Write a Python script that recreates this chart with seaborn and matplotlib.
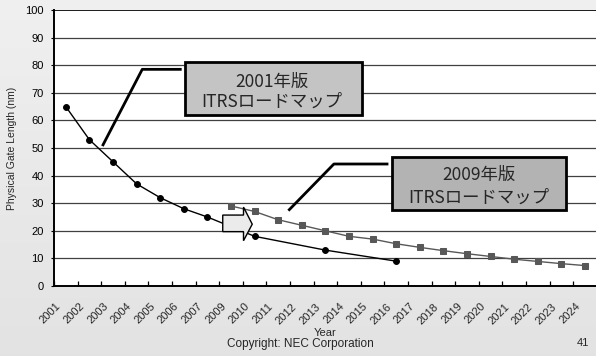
import numpy as np
import pandas as pd
import matplotlib
matplotlib.use("Agg")
import matplotlib.pyplot as plt
import matplotlib.transforms as mtransforms
from matplotlib.patches import Rectangle, Polygon
import seaborn as sns

# Category axis: roadmap years (2008 is not a node on this axis)
categories = ["2001", "2002", "2003", "2004", "2005", "2006", "2007", "2009",
              "2010", "2011", "2012", "2013", "2014", "2015", "2016", "2017",
              "2018", "2019", "2020", "2021", "2022", "2023", "2024"]

# ITRS 2001 physical gate length (nm)
itrs2001_years = ["2001", "2002", "2003", "2004", "2005", "2006", "2007",
                  "2010", "2013", "2016"]
itrs2001_values = [65, 53, 45, 37, 32, 28, 25, 18, 13, 9]

# ITRS 2009 physical gate length (nm)
itrs2009_years = ["2009", "2010", "2011", "2012", "2013", "2014", "2015",
                  "2016", "2017", "2018", "2019", "2020", "2021", "2022",
                  "2023", "2024"]
itrs2009_values = [29, 27, 24, 22, 20, 18, 17, 15.3, 14, 12.8, 11.7, 10.7,
                   9.7, 8.9, 8.1, 7.4]

y_ticks = list(range(0, 101, 10))

sns.set_theme(style="white")
plt.rcParams["font.family"] = ["Liberation Sans", "Noto Sans CJK JP"]
cjk = ["Noto Sans CJK JP", "Liberation Sans"]

df01 = pd.DataFrame({"pos": [categories.index(y) for y in itrs2001_years],
                     "value": itrs2001_values})
df09 = pd.DataFrame({"pos": [categories.index(y) for y in itrs2009_years],
                     "value": itrs2009_values})

W, H = 596, 356
fig = plt.figure(figsize=(W / 100, H / 100), dpi=100)

# slide background
bg = fig.add_axes([0, 0, 1, 1], zorder=-10)
grad = np.linspace(0, 1, 256)[:, None]
top = np.array([0.94, 0.94, 0.94])
bot = np.array([0.89, 0.89, 0.89])
img = top[None, None, :] * (1 - grad[..., None]) + bot[None, None, :] * grad[..., None]
img = np.repeat(img, 2, axis=1)
bg.imshow(img, aspect="auto", extent=[0, 1, 0, 1])
bg.set_axis_off()

left_px, right_px, top_px, bottom_px = 54, 596.8, 10, 286
ax = fig.add_axes([left_px / W, 1 - bottom_px / H,
                   (right_px - left_px) / W, (bottom_px - top_px) / H])
ax.set_facecolor("white")

sns.lineplot(data=df01, x="pos", y="value", ax=ax, color="black", lw=1.0,
             marker="o", markersize=4.2, markeredgecolor="black",
             markerfacecolor="black", zorder=4)
sns.lineplot(data=df09, x="pos", y="value", ax=ax, color="#585858", lw=1.0,
             marker="s", markersize=4.2, markeredgecolor="#585858",
             markerfacecolor="#585858", zorder=4)

ax.set_xlim(-0.5, len(categories) - 0.5)
ax.set_ylim(0, 100)

# horizontal grid
for v in y_ticks[1:]:
    ax.axhline(v, color="#1a1a1a" if v == 100 else "#404040",
               lw=1.4 if v == 100 else 0.9, zorder=1)

for s in ["right", "top"]:
    ax.spines[s].set_visible(False)
for s in ["left", "bottom"]:
    ax.spines[s].set_color("black")
    ax.spines[s].set_linewidth(1.4)

ax.set_yticks(y_ticks)
ax.set_yticklabels([str(v) for v in y_ticks], fontsize=8)
ax.tick_params(axis="y", direction="out", length=2, width=0.8, pad=5.5,
               colors="black", left=True)

ax.set_xticks(np.arange(len(categories)))
ax.set_xticklabels(categories, fontsize=8, rotation=45, ha="right", va="top")
ax.set_xticks(np.arange(len(categories)) - 0.5, minor=True)
ax.tick_params(axis="x", which="major", length=0, pad=11.0)
ax.tick_params(axis="x", which="minor", direction="in", length=3.5,
               width=0.9, color="black", bottom=True)
shift = mtransforms.ScaledTranslation(-3.0 / 100, 0, fig.dpi_scale_trans)
for lab in ax.get_xticklabels():
    lab.set_transform(lab.get_transform() + shift)

ax.set_xlabel("Year", fontsize=8)
ax.xaxis.set_label_coords(0.5, -0.152)
ax.set_ylabel("Physical Gate Length (nm)", fontsize=7.5)
ax.yaxis.set_label_coords((17.5 - left_px) / (right_px - left_px), 0.5)

# transition arrow between the two roadmaps
arrow = Polygon([(6.65, 25.7), (7.53, 25.7), (7.53, 28.6), (7.90, 22.4),
                 (7.53, 16.4), (7.53, 19.7), (6.65, 19.7)], closed=True,
                facecolor="#ebebeb", edgecolor="black", lw=1.0, zorder=6)
ax.add_patch(arrow)

# callouts
ax.plot([4.91, 3.24, 1.55], [78.5, 78.5, 50.7], color="black", lw=2.0,
        zorder=5, solid_capstyle="butt")
ax.plot([13.67, 11.36, 9.43], [44.2, 44.2, 27.3], color="black", lw=2.0,
        zorder=5, solid_capstyle="butt")

box1 = Rectangle((5.05, 61.96), 12.55 - 5.05, 81.16 - 61.96,
                 facecolor="#c4c4c4", edgecolor="black", lw=2.0, zorder=7)
box2 = Rectangle((13.81, 27.4), 21.18 - 13.81, 46.6 - 27.4,
                 facecolor="#b3b3b3", edgecolor="black", lw=2.0, zorder=7)
ax.add_patch(box1)
ax.add_patch(box2)
for x, y, s in [(8.74, 74.0, "2001年版"), (8.74, 66.8, "ITRSロードマップ"),
                (17.5, 40.2, "2009年版"), (17.5, 32.1, "ITRSロードマップ")]:
    ax.text(x, y, s, fontsize=12.5, ha="center", va="center", zorder=8,
            family=cjk)

fig.text(300 / W, 1 - 344 / H, "Copyright: NEC Corporation", fontsize=8.5,
         ha="center", va="center")
fig.text(583 / W, 1 - 343 / H, "41", fontsize=8, ha="center", va="center")

fig.savefig("out.png", dpi=100)
